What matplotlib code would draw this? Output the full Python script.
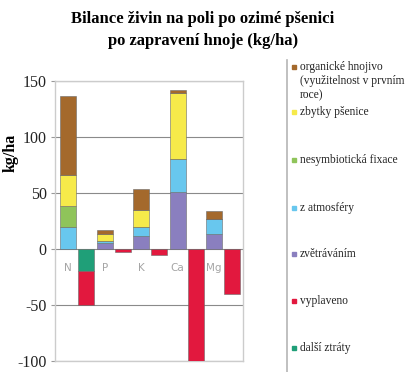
import matplotlib
matplotlib.use('Agg')
import matplotlib.pyplot as plt
import numpy as np
from matplotlib.lines import Line2D

plt.rcParams['font.family'] = ['Liberation Serif', 'DejaVu Serif']

categories = ["N", "P", "K", "Ca", "Mg"]

# positive (inputs), stacked bottom -> top
zvetravanim = [0, 5, 12, 51, 13]
atmosfery = [20, 2, 8, 29, 14]
nesymb_fixace = [18, 0, 0, 0, 0]
zbytky_psenice = [28, 6, 15, 59, 0]
organicke_hnojivo = [71, 4, 19, 3, 7]
# negative (losses), stacked top -> bottom
dalsi_ztraty = [20, 0, 0, 0, 0]
vyplaveno = [30, 3, 5, 100, 40]

C_BROWN = "#a4692c"
C_YELLOW = "#f6ea4a"
C_GREEN = "#8fc45a"
C_BLUE = "#68c7ee"
C_PURPLE = "#8a7fbf"
C_RED = "#e2183e"
C_TEAL = "#1f9f78"

fig = plt.figure(figsize=(4.06, 3.72), dpi=100)
ax = fig.add_axes([0.1355, 0.0296, 0.463, 0.7524])

n = len(categories)
x_pos = np.arange(n) * 2
x_neg = x_pos + 1
w = 0.88
edge = dict(edgecolor="#6a6a6a", linewidth=0.4)

bottom = np.zeros(n)
for vals, col in [(zvetravanim, C_PURPLE), (atmosfery, C_BLUE),
                  (nesymb_fixace, C_GREEN), (zbytky_psenice, C_YELLOW),
                  (organicke_hnojivo, C_BROWN)]:
    v = np.array(vals, dtype=float)
    ax.bar(x_pos, v, w, bottom=bottom, color=col, zorder=3, **edge)
    bottom += v

bottom = np.zeros(n)
for vals, col in [(dalsi_ztraty, C_TEAL), (vyplaveno, C_RED)]:
    v = -np.array(vals, dtype=float)
    ax.bar(x_neg, v, w, bottom=bottom, color=col, zorder=3, **edge)
    bottom += v

for xp, name in zip(x_pos, categories):
    ax.text(xp, -17, name, ha="center", va="center", fontsize=7.5,
            color="#a5a5a5", family="DejaVu Sans", zorder=4)

ax.set_ylim(-100, 150)
ax.set_xlim(-0.72, 9.58)
ax.set_yticks([-100, -50, 0, 50, 100, 150])
ax.set_yticklabels(["-100", "-50", "0", "50", "100", "150"])
ax.set_xticks([])
ax.tick_params(axis="y", labelsize=11.5, length=3, color="#999999",
               pad=3, labelcolor="#222222")
ax.yaxis.grid(True, color="#8a8a8a", linewidth=0.8, zorder=0)
for s in ax.spines.values():
    s.set_color("#cccccc")
    s.set_linewidth(1.0)

fig.text(0.027, 0.59, "kg/ha", rotation=90, ha="center", va="center",
         fontsize=11.5, fontweight="bold")

fig.text(0.5, 0.948, "Bilance živin na poli po ozimé pšenici",
         ha="center", va="center", fontsize=12, fontweight="bold")
fig.text(0.5, 0.891, "po zapravení hnoje (kg/ha)",
         ha="center", va="center", fontsize=12, fontweight="bold")

# legend
fig.add_artist(Line2D([287 / 406, 287 / 406], [0, 312 / 372],
                      color="#b5b5b5", linewidth=1.2))
legend_items = [
    ("organické hnojivo", C_BROWN, 67),
    ("zbytky pšenice", C_YELLOW, 112),
    ("nesymbiotická fixace", C_GREEN, 160),
    ("z atmosféry", C_BLUE, 208),
    ("zvětráváním", C_PURPLE, 254),
    ("vyplaveno", C_RED, 301),
    ("další ztráty", C_TEAL, 348),
]
for label, col, ypx in legend_items:
    yf = 1 - ypx / 372
    fig.add_artist(Line2D([294 / 406], [yf], marker="s", markersize=3.2,
                          color=col, linestyle="none"))
    fig.text(300 / 406, yf, label, ha="left", va="center", fontsize=8.3,
             color="#222222")
fig.text(300 / 406, 1 - 81 / 372, "(využitelnost v prvním", ha="left",
         va="center", fontsize=8.3, color="#222222")
fig.text(300 / 406, 1 - 95 / 372, "roce)", ha="left", va="center",
         fontsize=8.3, color="#222222")

fig.savefig("out.png", dpi=100)
